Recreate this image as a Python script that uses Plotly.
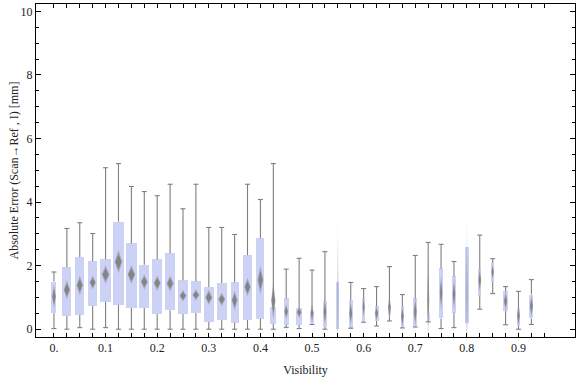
import plotly.graph_objects as go

# ---------------- data ----------------
visibility = [0.000, 0.025, 0.050, 0.075, 0.100, 0.125, 0.150, 0.175, 0.200, 0.225,
              0.250, 0.275, 0.300, 0.325, 0.350, 0.375, 0.400, 0.425, 0.450, 0.475,
              0.500, 0.525, 0.550, 0.575, 0.600, 0.625, 0.650, 0.675, 0.700, 0.725,
              0.750, 0.775, 0.800, 0.825, 0.850, 0.875, 0.900, 0.925]

whisker_low = [0.02, 0.00, 0.05, 0.00, 0.05, 0.00, 0.00, 0.00, 0.00, 0.00,
               0.00, 0.00, 0.00, 0.00, 0.00, 0.00, 0.00, 0.00, 0.06, 0.02,
               0.15, 0.00, 0.00, 0.03, 0.22, 0.10, 0.26, 0.04, 0.07, 0.23,
               0.02, 0.05, 0.18, 0.63, 1.12, 0.14, 0.00, 0.15]

q1 = [0.50, 0.42, 0.45, 0.73, 0.86, 0.77, 0.67, 0.67, 0.48, 0.60,
      0.48, 0.51, 0.23, 0.29, 0.20, 0.29, 0.33, 0.17, 0.14, 0.14,
      0.19, 0.07, 0.00, 0.05, 0.23, 0.26, 0.44, 0.05, 0.09, 0.26,
      0.34, 0.52, 0.18, 1.05, 1.49, 0.58, 0.10, 0.34]

q3 = [1.50, 1.95, 2.26, 2.14, 2.20, 3.38, 2.70, 2.03, 2.20, 2.39,
      1.54, 1.51, 1.33, 1.45, 1.48, 2.33, 2.86, 0.69, 0.97, 0.66,
      0.57, 0.88, 1.50, 0.91, 0.97, 0.72, 0.75, 0.72, 0.97, 0.50,
      1.91, 1.66, 2.60, 1.89, 2.08, 1.19, 0.66, 1.09]

whisker_high = [1.80, 3.17, 3.35, 3.01, 5.08, 5.21, 4.49, 4.33, 4.20, 4.56,
                3.79, 4.56, 3.20, 3.20, 2.98, 4.56, 4.08, 5.21, 1.89, 2.23,
                1.86, 2.44, 1.50, 1.47, 1.28, 1.34, 1.97, 1.09, 2.32, 2.73,
                2.67, 2.13, 2.60, 2.96, 2.22, 1.34, 1.19, 1.56]

mean = [1.03, 1.24, 1.38, 1.47, 1.72, 2.12, 1.72, 1.49, 1.45, 1.44,
        1.05, 1.08, 1.00, 0.94, 0.91, 1.33, 1.55, 0.90, 0.56, 0.53,
        0.50, 0.55, 1.00, 0.50, 0.70, 0.50, 0.70, 0.40, 0.55, 0.92,
        1.15, 1.10, 1.15, 1.55, 1.80, 0.89, 0.42, 0.73]

mean_ci = [0.38, 0.30, 0.31, 0.22, 0.29, 0.36, 0.30, 0.24, 0.24, 0.25,
           0.18, 0.18, 0.24, 0.21, 0.31, 0.29, 0.45, 0.60, 0.24, 0.18,
           0.30, 0.45, 2.50, 0.40, 0.35, 0.25, 0.40, 0.35, 0.45, 1.33,
           0.55, 0.50, 2.30, 0.40, 0.25, 0.30, 0.35, 0.35]

# relative box width (grows with sample size)
box_weight = [5, 9, 9, 9, 11, 11, 11, 10, 10, 10,
              10, 10, 10, 10, 8, 9, 8, 6, 5, 6.5,
              3.5, 3.5, 2, 3.7, 2.3, 4, 3.3, 3.3, 3.7, 3,
              3.3, 3.3, 3.3, 3.3, 3, 4.3, 3.3, 4]

x_tick_vals = [0.000, 0.025, 0.050, 0.075, 0.100, 0.125, 0.150, 0.175, 0.200, 0.225,
               0.250, 0.275, 0.300, 0.325, 0.350, 0.375, 0.400, 0.425, 0.450, 0.475,
               0.500, 0.525, 0.550, 0.575, 0.600, 0.625, 0.650, 0.675, 0.700, 0.725,
               0.750, 0.775, 0.800, 0.825, 0.850, 0.875, 0.900, 0.925, 0.950]
x_label_map = {0.0: "0.", 0.1: "0.1", 0.2: "0.2", 0.3: "0.3", 0.4: "0.4",
               0.5: "0.5", 0.6: "0.6", 0.7: "0.7", 0.8: "0.8", 0.9: "0.9"}
y_tick_vals = [0, 2, 4, 6, 8, 10]
y_title = "Absolute Error (Scan\u2192Ref , I) [mm]"

# ---------------- styling ----------------
BOX_FILL = "#CCD2F5"
WHISKER = "#7f7f7f"
FONT = "Liberation Serif"
UNIT_PER_PX = 1 / 516.6          # x-axis data units per pixel
CAP_HALF = 2.5 * UNIT_PER_PX

widths = [w * UNIT_PER_PX for w in box_weight]
heights = [b - a for a, b in zip(q1, q3)]

fig = go.Figure()

fig.add_trace(go.Bar(
    x=visibility, y=heights, base=q1, width=widths,
    marker=dict(color=BOX_FILL, line=dict(width=0)),
    hoverinfo="skip", showlegend=False))

# whiskers with caps
wx, wy = [], []
for x, lo, a, b, hi in zip(visibility, whisker_low, q1, q3, whisker_high):
    if hi > b + 1e-9:
        wx += [x, x, None, x - CAP_HALF, x + CAP_HALF, None]
        wy += [b, hi, None, hi, hi, None]
    if lo < a - 1e-9:
        wx += [x, x, None, x - CAP_HALF, x + CAP_HALF, None]
        wy += [a, lo, None, lo, lo, None]
fig.add_trace(go.Scatter(x=wx, y=wy, mode="lines",
                         line=dict(color=WHISKER, width=1.1),
                         hoverinfo="skip", showlegend=False))

# mean diamonds (outer soft + inner solid); very wide intervals are drawn faint
for x, m, c, w in zip(visibility, mean, mean_ci, widths):
    fade = min(1.0, 0.7 / c)
    for sw, sh, alpha in ((1.0, 1.0, 0.5), (0.8, 0.65, 0.9)):
        hw = (0.32 * w + 0.3 * UNIT_PER_PX) * sw
        hh = c * sh
        fig.add_trace(go.Scatter(
            x=[x, x + hw, x, x - hw, x], y=[m + hh, m, m - hh, m, m + hh],
            mode="lines", fill="toself",
            fillcolor="rgba(128,128,128,%.3f)" % (alpha * fade),
            line=dict(width=0), hoverinfo="skip", showlegend=False))

x_tick_text = [x_label_map.get(round(v, 3), "") for v in x_tick_vals]

fig.update_layout(
    width=576, height=377,
    margin=dict(l=36, r=1, t=4, b=40, autoexpand=False),
    paper_bgcolor="white", plot_bgcolor="white",
    font=dict(family=FONT, size=12, color="#222222"),
    bargap=0, barmode="overlay",
    xaxis=dict(range=[-0.0348, 1.0095], tickvals=x_tick_vals, ticktext=x_tick_text,
               ticks="inside", ticklen=4, tickcolor="black", tickwidth=1,
               showline=True, linecolor="black", linewidth=1, mirror="ticks",
               showgrid=False, zeroline=False, automargin=False,
               title=dict(text="Visibility", standoff=11,
                          font=dict(family=FONT, size=12, color="#222222"))),
    yaxis=dict(range=[-0.245, 10.23], tickvals=y_tick_vals,
               ticktext=[str(v) for v in y_tick_vals],
               ticks="inside", ticklen=5, tickcolor="black", tickwidth=1,
               minor=dict(dtick=0.5, tick0=0, ticks="inside", ticklen=3,
                          tickcolor="black", tickwidth=1, showgrid=False),
               showline=True, linecolor="black", linewidth=1, mirror="ticks",
               showgrid=False, zeroline=False, automargin=False),
    annotations=[dict(text=y_title, textangle=-90, xref="paper", yref="paper",
                      x=0, y=0.5, xanchor="center", yanchor="middle",
                      xshift=-23, showarrow=False,
                      font=dict(family=FONT, size=12, color="#222222"))],
)

fig.write_html("out.html", config={"displayModeBar": False},
               post_script="document.body.style.margin='0';document.body.style.overflow='hidden';")
